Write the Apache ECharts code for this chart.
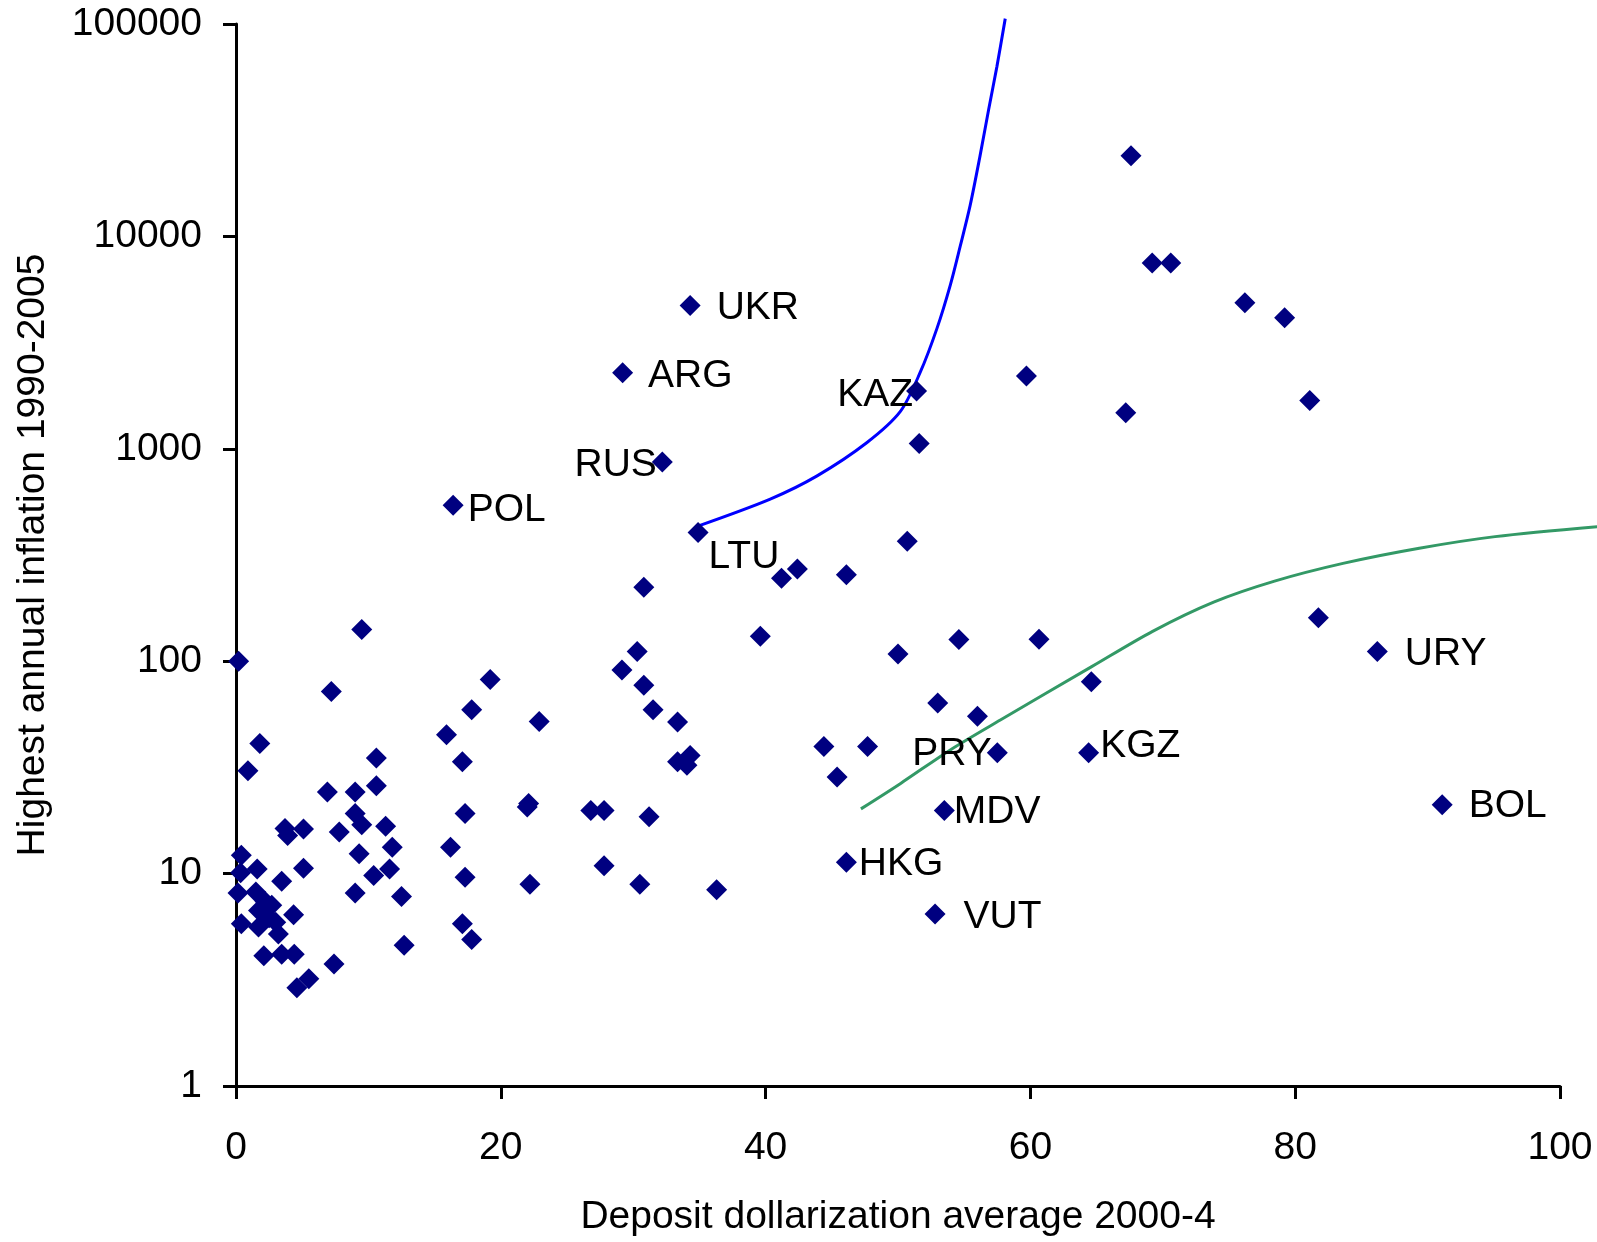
<!DOCTYPE html>
<html>
<head>
<meta charset="utf-8">
<script src="https://cdn.jsdelivr.net/npm/echarts@6/dist/echarts.min.js"></script>
<style>
  html, body { margin: 0; padding: 0; background: #fff; }
  #chart { width: 1597px; height: 1242px; }
</style>
</head>
<body>
<div id="chart"></div>
<script>
// deposit dollarization (x) vs highest annual inflation (y), one entry per country
const pointX = [
  9.5, 0.2, 7.2, 19.2, 17.8, 22.9, 1.8, 15.9, 0.9, 10.6,
  17.1, 6.9, 9.0, 10.6, 9.0, 9.5, 11.3, 17.3, 22.0, 22.1,
  3.7, 5.1, 3.9, 7.8, 11.8, 9.3, 16.2, 0.4, 1.6, 0.35,
  5.1, 3.45, 10.4, 11.6, 17.3, 22.2, 0.15, 9.0, 12.5, 1.5,
  2.2, 2.7, 4.35, 1.7, 0.4, 1.7, 3.2, 2.5, 3.0, 17.1,
  17.8, 12.7, 2.1, 3.45, 4.4, 7.4, 5.5, 4.6,
  30.8, 39.6, 30.3, 29.15, 30.8, 31.5, 33.35, 34.3, 33.35, 34.06,
  26.8, 27.8, 31.2, 27.8, 30.5, 36.3, 41.2, 42.4,
  50.7, 46.1, 50.0, 54.6, 60.65, 64.6, 53.0, 56.0, 44.4, 47.7, 45.4,
  59.7, 51.6, 67.6, 69.2, 70.6, 76.2, 79.2, 67.2, 81.1, 81.75,
  34.3, 29.2, 51.4, 32.2, 16.4, 34.9, 57.5, 64.4, 53.5, 46.1, 52.8, 86.2, 91.1
];
const pointY = [
  141, 100, 72, 82, 59, 52, 41, 45, 30.5, 35,
  33.6, 24.2, 24.2, 25.9, 19.2, 17.0, 16.7, 19.2, 20.6, 21.4,
  16.3, 16.2, 15.1, 15.7, 13.3, 12.4, 13.3, 12.2, 10.5, 10.1,
  10.6, 9.2, 9.8, 10.5, 9.6, 8.9, 8.1, 8.1, 7.8, 8.2,
  7.4, 7.1, 6.4, 6.7, 5.8, 5.6, 5.2, 6.2, 5.9, 5.8,
  4.9, 4.6, 4.1, 4.17, 4.17, 3.75, 3.2, 2.9,
  223, 131, 111, 91, 77, 59, 51.7, 36, 33.6, 32.4,
  19.8, 19.8, 18.5, 10.9, 8.9, 8.4, 246, 272,
  367, 255, 108, 126.5, 127, 80, 63.5, 55, 39.7, 39.7, 28.5,
  2200, 1060, 24000, 7500, 7500, 4870, 4140, 1480, 1690, 160,
  4730, 2280, 1870, 867, 543, 404, 37.1, 37.1, 19.8, 11.3, 6.45, 111, 21.1
];
const pointCode = [
  '', '', '', '', '', '', '', '', '', '',
  '', '', '', '', '', '', '', '', '', '',
  '', '', '', '', '', '', '', '', '', '',
  '', '', '', '', '', '', '', '', '', '',
  '', '', '', '', '', '', '', '', '', '',
  '', '', '', '', '', '', '', '',
  '', '', '', '', '', '', '', '', '', '',
  '', '', '', '', '', '', '', '',
  '', '', '', '', '', '', '', '', '', '', '',
  '', '', '', '', '', '', '', '', '', '',
  'UKR', 'ARG', 'KAZ', 'RUS', 'POL', 'LTU', 'PRY', 'KGZ', 'MDV', 'HKG', 'VUT', 'URY', 'BOL'
];

// fitted curves
const blueX = [34.94, 40.35, 43.89, 47.66, 50.18, 51.69, 52.95, 53.95, 54.7, 55.45, 56.2, 56.84, 57.47, 58.1];
const blueY = [434, 580, 746, 1071, 1500, 2300, 3700, 5900, 9000, 14000, 24000, 39400, 63000, 106000];
const greenX = [47.2, 50.2, 53.95, 57.73, 64.63, 69.23, 73.84, 78.44, 83.61, 89.37, 95.1, 102.8];
const greenY = [20.5, 27.0, 38.8, 53.6, 95.5, 140, 192, 241, 292, 344, 390, 434];

const xTicks = [0, 20, 40, 60, 80, 100];
const yTicks = [1, 10, 100, 1000, 10000, 100000];

const xTitle = 'Deposit dollarization average 2000-4';
const yTitle = 'Highest annual inflation 1990-2005';

const FONT = "'Liberation Sans', Arial, sans-serif";

// where each country code sits relative to its marker
const labelPlace = {
  UKR: { position: 'right', distance: 16, offset: [0, 3] },
  ARG: { position: 'right', distance: 15, offset: [0, 3] },
  KAZ: { position: 'left', distance: -7, offset: [0, 4] },
  RUS: { position: 'left', distance: -5, offset: [0, 3] },
  POL: { position: 'right', distance: 4, offset: [0, 5] },
  LTU: { position: 'right', distance: 0, offset: [0, 25] },
  PRY: { position: 'left', distance: -5, offset: [0, 2] },
  KGZ: { position: 'right', distance: 1, offset: [0, -6] },
  MDV: { position: 'right', distance: -1, offset: [0, 2] },
  HKG: { position: 'right', distance: 2, offset: [0, 2] },
  VUT: { position: 'right', distance: 18, offset: [0, 3] },
  URY: { position: 'right', distance: 17, offset: [0, 3] },
  BOL: { position: 'right', distance: 16, offset: [0, 2] }
};

const scatterData = pointX.map((x, i) => {
  const code = pointCode[i];
  const item = { value: [x, pointY[i]] };
  if (code) {
    item.name = code;
    item.label = Object.assign(
      { show: true, formatter: code, color: '#000', fontSize: 39, fontFamily: FONT },
      labelPlace[code]
    );
  }
  return item;
});

const axisFont = { fontSize: 39, color: '#000', fontFamily: FONT };

// the green fit runs on past the end of the x axis, to the edge of the picture,
// so it gets a second, hidden grid that is wider but keeps the same scale
const mainLeft = 236, mainRight = 37, chartW = 1597;
const wideMax = xTicks[xTicks.length - 1] * (chartW - mainLeft) / (chartW - mainLeft - mainRight);

const chart = echarts.init(document.getElementById('chart'));

chart.setOption({
  animation: false,
  backgroundColor: '#ffffff',
  textStyle: { fontFamily: FONT },
  grid: [
    { left: mainLeft, right: mainRight, top: 24, bottom: 154 },
    { left: mainLeft, right: 0, top: 24, bottom: 154 }
  ],
  xAxis: [
    {
      type: 'value',
      gridIndex: 0,
      min: xTicks[0],
      max: xTicks[xTicks.length - 1],
      interval: xTicks[1] - xTicks[0],
      name: xTitle,
      nameLocation: 'middle',
      nameGap: 112,
      nameTextStyle: axisFont,
      axisLine: { onZero: false, lineStyle: { color: '#000', width: 3 } },
      axisTick: { length: 13, lineStyle: { color: '#000', width: 3 } },
      axisLabel: Object.assign({ margin: 43 }, axisFont),
      splitLine: { show: false }
    },
    {
      type: 'value',
      gridIndex: 1,
      min: xTicks[0],
      max: wideMax,
      show: false
    }
  ],
  yAxis: [
    {
      type: 'log',
      gridIndex: 0,
      logBase: 10,
      min: yTicks[0],
      max: yTicks[yTicks.length - 1],
      name: yTitle,
      nameLocation: 'middle',
      nameGap: 183,
      nameTextStyle: axisFont,
      axisLine: { show: true, lineStyle: { color: '#000', width: 3 } },
      axisTick: { show: true, length: 13, lineStyle: { color: '#000', width: 3 } },
      axisLabel: Object.assign({ margin: 34, formatter: v => String(Math.round(v)) }, axisFont),
      splitLine: { show: false }
    },
    {
      type: 'log',
      gridIndex: 1,
      logBase: 10,
      min: yTicks[0],
      max: yTicks[yTicks.length - 1],
      show: false
    }
  ],
  series: [
    {
      type: 'line',
      xAxisIndex: 0,
      yAxisIndex: 0,
      smooth: 0.3,
      showSymbol: false,
      symbol: 'none',
      clip: false,
      lineStyle: { color: '#0000ff', width: 3 },
      data: blueX.map((x, i) => [x, blueY[i]]),
      z: 2
    },
    {
      type: 'line',
      xAxisIndex: 1,
      yAxisIndex: 1,
      smooth: 0.3,
      showSymbol: false,
      symbol: 'none',
      clip: false,
      lineStyle: { color: '#339966', width: 3 },
      data: greenX.map((x, i) => [x, greenY[i]]),
      z: 2
    },
    {
      type: 'scatter',
      xAxisIndex: 0,
      yAxisIndex: 0,
      symbol: 'diamond',
      symbolSize: 21,
      itemStyle: { color: '#000080', opacity: 1 },
      label: { fontSize: 39, color: '#000', fontFamily: FONT },
      data: scatterData,
      z: 3
    }
  ]
});
</script>
</body>
</html>
